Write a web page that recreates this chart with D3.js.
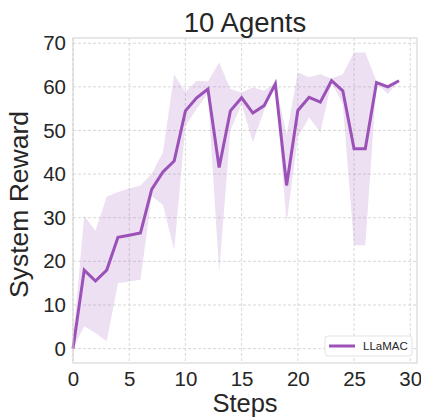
<!DOCTYPE html>
<html>
<head>
<meta charset="utf-8">
<script src="https://cdn.jsdelivr.net/npm/d3@7"></script>
<style>
  body { margin: 0; background: #fff; }
  text { font-family: "Liberation Sans", Arial, sans-serif; fill: #262626; }
</style>
</head>
<body>
<div id="chart"></div>
<script>
// data
var steps = d3.range(0, 30);
var meanReward = [0, 18, 15.5, 18, 25.5, 26, 26.5, 36.5, 40.5, 43,
  54.5, 57.5, 59.5, 41.5, 54.5, 57.5, 54, 55.7, 60.7, 37.4,
  54.6, 57.6, 56.5, 61.4, 59.1, 45.8, 45.8, 61, 60, 61.4];
var upperReward = [2, 30.4, 27, 34.8, 35.9, 36.7, 37.4, 40, 45, 62.8,
  58.8, 61.4, 61.2, 65.6, 59.5, 58.7, 59.9, 59.1, 60.9, 49,
  63.3, 62.2, 62.9, 61.9, 62.9, 67.9, 67.9, 61.3, 60.4, 61.6];
var lowerReward = [0, 5.1, 3.6, 1.7, 15, 15.4, 15.8, 35, 33, 22.6,
  51, 55, 58.5, 17.6, 50, 56, 47.3, 54.6, 60.5, 28.8,
  48.5, 53, 49.6, 61, 56, 23.7, 23.7, 60.8, 58.4, 61.2];
var xTicks = [0, 5, 10, 15, 20, 25, 30];
var yTicks = [0, 10, 20, 30, 40, 50, 60, 70];
var seriesName = "LLaMAC";

//svg sizes
var svgWidth = 421;
var svgHeight = 420;

//plot area edges
var margin = { top: 38, right: 4, bottom: 57, left: 73 };
var width = svgWidth - margin.left - margin.right;
var height = svgHeight - margin.top - margin.bottom;

var svg = d3.select("#chart")
  .append("svg")
  .attr("width", svgWidth)
  .attr("height", svgHeight);

var chartGroup = svg.append("g")
  .attr("transform", `translate(${margin.left}, ${margin.top})`);

// scales
var xScale = d3.scaleLinear()
  .domain([0, 30.6])
  .range([0, width]);

var yScale = d3.scaleLinear()
  .domain([-3.3, 71.2])
  .range([height, 0]);

// dashed grid
chartGroup.append("g")
  .selectAll("line")
  .data(xTicks)
  .enter()
  .append("line")
  .attr("x1", d => xScale(d))
  .attr("x2", d => xScale(d))
  .attr("y1", 0)
  .attr("y2", height)
  .attr("stroke", "#d4d4d4")
  .attr("stroke-width", 0.9)
  .attr("stroke-dasharray", "3,2");

chartGroup.append("g")
  .selectAll("line")
  .data(yTicks)
  .enter()
  .append("line")
  .attr("x1", 0)
  .attr("x2", width)
  .attr("y1", d => yScale(d))
  .attr("y2", d => yScale(d))
  .attr("stroke", "#d4d4d4")
  .attr("stroke-width", 0.9)
  .attr("stroke-dasharray", "3,2");

// shaded band
var bandData = steps.map((s, i) => ({ s: s, lo: lowerReward[i], hi: upperReward[i] }));

var area = d3.area()
  .x(d => xScale(d.s))
  .y0(d => yScale(d.lo))
  .y1(d => yScale(d.hi));

chartGroup.append("path")
  .datum(bandData)
  .attr("d", area)
  .attr("fill", "#a166c0")
  .attr("fill-opacity", 0.2);

// mean line
var line = d3.line()
  .x((d, i) => xScale(steps[i]))
  .y(d => yScale(d));

chartGroup.append("path")
  .datum(meanReward)
  .attr("d", line)
  .attr("fill", "none")
  .attr("stroke", "#9b51b8")
  .attr("stroke-width", 3)
  .attr("stroke-linejoin", "miter");

// axes without tick marks
var bottomAxis = d3.axisBottom(xScale).tickValues(xTicks).tickSize(0).tickPadding(8);
var leftAxis = d3.axisLeft(yScale).tickValues(yTicks).tickSize(0).tickPadding(7);

var xAxis = chartGroup.append("g")
  .attr("transform", `translate(0, ${height})`)
  .call(bottomAxis);

var yAxis = chartGroup.append("g")
  .call(leftAxis);

[xAxis, yAxis].forEach(function(ax) {
  ax.select(".domain").remove();
  ax.selectAll("text")
    .attr("font-size", "20.5px")
    .attr("fill", "#262626")
    .style("font-family", "'Liberation Sans', Arial, sans-serif");
});

// frame
chartGroup.append("rect")
  .attr("x", 0)
  .attr("y", 0)
  .attr("width", width)
  .attr("height", height)
  .attr("fill", "none")
  .attr("stroke", "#cfcfcf")
  .attr("stroke-width", 1);

// title and axis labels
svg.append("text")
  .attr("x", margin.left + width / 2)
  .attr("y", 32)
  .attr("text-anchor", "middle")
  .attr("font-size", "27.5px")
  .text("10 Agents");

svg.append("text")
  .attr("x", margin.left + width / 2)
  .attr("y", 412)
  .attr("text-anchor", "middle")
  .attr("font-size", "25.5px")
  .text("Steps");

svg.append("text")
  .attr("transform", "rotate(-90)")
  .attr("x", -(margin.top + height / 2 + 4))
  .attr("y", 28)
  .attr("text-anchor", "middle")
  .attr("font-size", "26.5px")
  .text("System Reward");

// legend
var legend = chartGroup.append("g")
  .attr("transform", `translate(${width - 92}, ${height - 27})`);

legend.append("rect")
  .attr("width", 87)
  .attr("height", 20)
  .attr("rx", 3)
  .attr("fill", "#fff")
  .attr("fill-opacity", 0.85)
  .attr("stroke", "#dcdcdc")
  .attr("stroke-width", 0.8);

legend.append("line")
  .attr("x1", 4)
  .attr("x2", 30)
  .attr("y1", 10)
  .attr("y2", 10)
  .attr("stroke", "#9b51b8")
  .attr("stroke-width", 3);

legend.append("text")
  .attr("x", 38)
  .attr("y", 14)
  .attr("font-size", "11.5px")
  .text(seriesName);
</script>
</body>
</html>
